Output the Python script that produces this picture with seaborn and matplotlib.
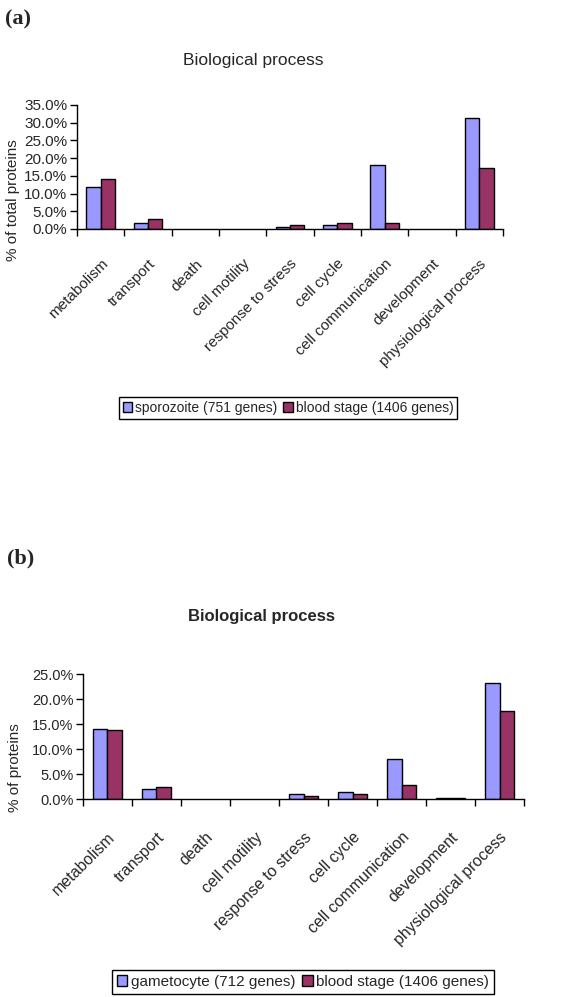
import numpy as np
import pandas as pd
import matplotlib
matplotlib.use("Agg")
import matplotlib.pyplot as plt
import seaborn as sns
from matplotlib.ticker import PercentFormatter, FixedLocator

sns.set_theme(style="white")
plt.rcParams['font.family'] = ['Liberation Sans', 'DejaVu Sans']

# --- data ---
categories = ["metabolism", "transport", "death", "cell motility", "response to stress",
              "cell cycle", "cell communication", "development", "physiological process"]

sporozoite = [11.8, 1.8, 0.0, 0.0, 0.6, 1.2, 18.0, 0.0, 31.3]
blood_a = [14.0, 2.9, 0.0, 0.0, 1.2, 1.7, 1.7, 0.0, 17.3]

gametocyte = [14.1, 2.1, 0.0, 0.0, 1.1, 1.4, 8.1, 0.3, 23.3]
blood_b = [13.8, 2.5, 0.0, 0.0, 0.7, 1.1, 2.9, 0.3, 17.7]

label_a1 = "sporozoite (751 genes)"
label_a2 = "blood stage (1406 genes)"
label_b1 = "gametocyte (712 genes)"
label_b2 = "blood stage (1406 genes)"

colors = ["#9999FF", "#993366"]


def long_df(s1, s2, n1, n2):
    return pd.DataFrame({
        "category": categories * 2,
        "value": s1 + s2,
        "series": [n1] * len(categories) + [n2] * len(categories),
    })


def draw_panel(ax, df, ymax, ystep, ylabel_fs, tick_fs, xpad):
    sns.barplot(data=df, x="category", y="value", hue="series", palette=colors,
                width=0.6, edgecolor="black", linewidth=1.0, ax=ax, saturation=1)
    handles, labels = ax.get_legend_handles_labels()
    ax.legend_.remove()
    # zero-height bars are not drawn in the original
    for cont in ax.containers:
        for bar in cont:
            if bar.get_height() == 0:
                bar.set_visible(False)
    ax.set_xlim(-0.5, len(categories) - 0.5)
    ax.set_ylim(0, ymax)
    ax.set_yticks(np.arange(0, ymax + 0.01, ystep))
    ax.yaxis.set_major_formatter(PercentFormatter(xmax=100, decimals=1))
    ax.set_xlabel("")
    ax.set_ylabel("")
    for s in ["top", "right"]:
        ax.spines[s].set_visible(False)
    for s in ["left", "bottom"]:
        ax.spines[s].set_color("black")
        ax.spines[s].set_linewidth(1.0)
    ax.xaxis.set_minor_locator(FixedLocator(np.arange(-0.5, len(categories), 1.0)))
    ax.tick_params(axis="x", which="major", length=0, pad=xpad)
    ax.tick_params(axis="x", which="minor", length=5, width=1, color="black", direction="out", bottom=True)
    ax.tick_params(axis="y", length=5, width=1, color="black", direction="out", left=True,
                   labelsize=ylabel_fs, pad=2)
    ax.set_xticks(range(len(categories)))
    ax.set_xticklabels(categories, rotation=45, ha="right", rotation_mode="anchor", fontsize=tick_fs)
    return handles, labels


fig = plt.figure(figsize=(5.66, 9.97), dpi=100)
W, H = 566, 997

# --- panel (a) ---
ax1 = fig.add_axes([77 / W, 1 - 229 / H, 426 / W, 124 / H])
h1, l1 = draw_panel(ax1, long_df(sporozoite, blood_a, label_a1, label_a2), 35, 5, 11, 11, 20)
fig.text(5 / W, 1 - 19 / H, "(a)", fontsize=16, fontweight="bold", family="Liberation Serif", va="center")
fig.text(253 / W, 1 - 60 / H, "Biological process", fontsize=12.5, ha="center", va="center")
fig.text(13 / W, 1 - 200 / H, "% of total proteins", fontsize=11, rotation=90, ha="center", va="center")
fig.legend(h1, l1, loc="center", bbox_to_anchor=(288 / W, 1 - 408 / H), ncol=2, fontsize=10,
           frameon=True, fancybox=False, edgecolor="black", handlelength=0.7, handleheight=0.7,
           handletextpad=0.2, columnspacing=0.4, borderpad=0.3, framealpha=1)

# --- panel (b) ---
ax2 = fig.add_axes([83 / W, 1 - 799 / H, 441 / W, 125 / H])
h2, l2 = draw_panel(ax2, long_df(gametocyte, blood_b, label_b1, label_b2), 25, 5, 10.5, 11.5, 22)
fig.text(7 / W, 1 - 558 / H, "(b)", fontsize=16, fontweight="bold", family="Liberation Serif", va="center")
fig.text(262 / W, 1 - 617 / H, "Biological process", fontsize=12, fontweight="bold", ha="center", va="center")
fig.text(15 / W, 1 - 768 / H, "% of proteins", fontsize=11, rotation=90, ha="center", va="center")
fig.legend(h2, l2, loc="center", bbox_to_anchor=(303 / W, 1 - 982 / H), ncol=2, fontsize=11,
           frameon=True, fancybox=False, edgecolor="black", handlelength=0.7, handleheight=0.7,
           handletextpad=0.25, columnspacing=0.4, borderpad=0.3, framealpha=1)

fig.savefig("out.png", dpi=100, facecolor="white")
